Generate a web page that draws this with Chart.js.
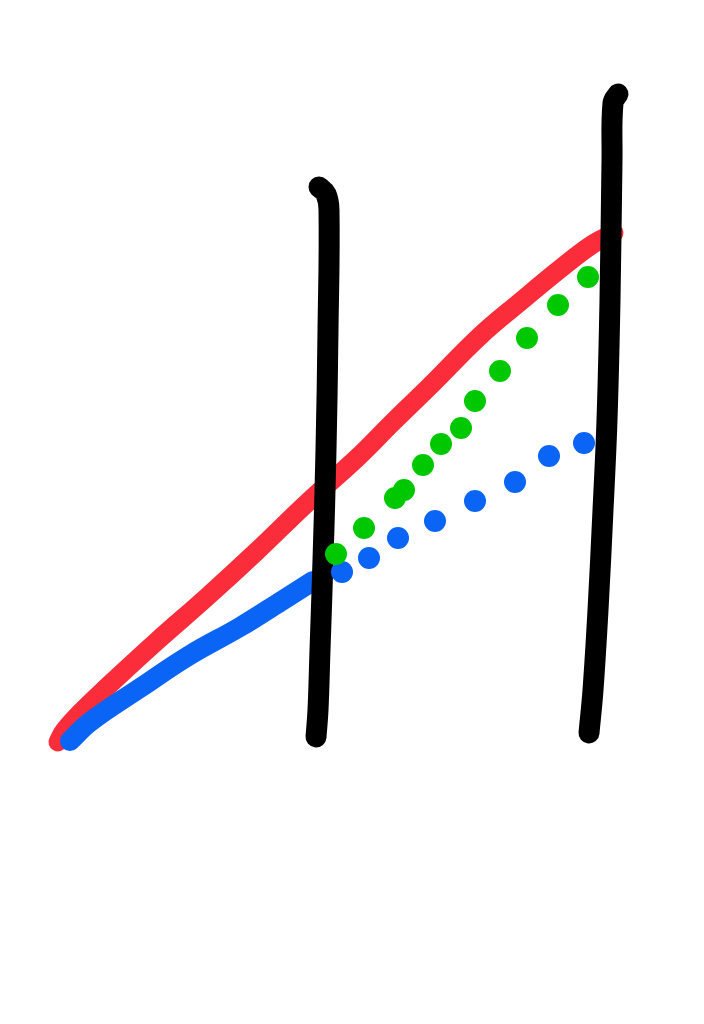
<!DOCTYPE html>
<html>
<head>
<meta charset="utf-8">
<script src="https://cdn.jsdelivr.net/npm/chart.js@4"></script>
<style>
html,body{margin:0;padding:0;background:#fff;overflow:hidden;}
#wrap{width:704px;height:1024px;position:relative;}
</style>
</head>
<body>
<div id="wrap"><canvas id="c"></canvas></div>
<script>
// Sketch coordinates (x, y measured downward on the page)
const redX = [58, 64, 80, 107, 157, 207, 257, 307, 357, 393, 430, 480, 520, 560, 593, 614];
const redY = [742, 731, 713, 687, 641, 597, 551, 503, 458, 422, 386, 336, 302, 269, 244, 233];

const blueLineX = [70, 90, 140, 190, 240, 280, 313];
const blueLineY = [741, 722, 688, 655, 627, 602, 581];

const blueDotX = [342, 369, 398, 435, 475, 515, 549, 584];
const blueDotY = [572, 558, 538, 521, 501, 482, 456, 443];

const greenDotX = [336, 364, 395, 404, 423, 441, 461, 475, 500, 527, 558, 588];
const greenDotY = [554, 528, 498, 490, 465, 444, 428, 401, 371, 338, 305, 277];

const black1X = [319, 326, 329, 328, 326, 323, 320, 318, 316];
const black1Y = [187, 194, 210, 330, 450, 560, 650, 710, 737];

const black2X = [618, 613, 612, 610, 607, 603, 598, 593, 589];
const black2Y = [94, 103, 160, 300, 420, 510, 610, 690, 733];

const pts = (xs, ys) => xs.map((x, i) => ({x, y: ys[i]}));
const line = (xs, ys, color, w, order) => ({
  data: pts(xs, ys), showLine: true, borderColor: color, borderWidth: w, pointRadius: 0,
  tension: 0.4, borderCapStyle: 'round', borderJoinStyle: 'round', order
});

new Chart(document.getElementById('c'), {
  type: 'scatter',
  data: {
    datasets: [
      {data: pts(greenDotX, greenDotY), showLine: false, pointRadius: 11, pointBackgroundColor: '#00c800', pointBorderWidth: 0, order: 0},
      {data: pts(blueDotX, blueDotY), showLine: false, pointRadius: 11, pointBackgroundColor: '#0a64f5', pointBorderWidth: 0, order: 0},
      line(black1X, black1Y, '#000', 21, 1),
      line(black2X, black2Y, '#000', 21, 1),
      line(blueLineX, blueLineY, '#0a64f5', 20, 2),
      line(redX, redY, '#fc2d3a', 19, 3)
    ]
  },
  options: {
    responsive: true,
    maintainAspectRatio: false,
    animation: false,
    layout: {padding: 0, autoPadding: false},
    clip: false,
    plugins: {legend: {display: false}, tooltip: {enabled: false}},
    scales: {
      x: {type: 'linear', min: 0, max: 704, display: false},
      y: {type: 'linear', min: 0, max: 1024, reverse: true, display: false}
    }
  }
});
</script>
</body>
</html>
